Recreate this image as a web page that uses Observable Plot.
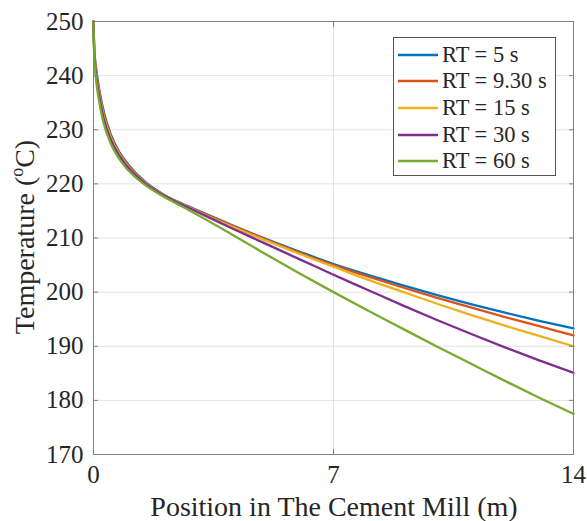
<!DOCTYPE html>
<html><head><meta charset="utf-8">
<script src="https://cdn.jsdelivr.net/npm/d3@7"></script>
<script src="https://cdn.jsdelivr.net/npm/@observablehq/plot@0.6"></script>
<style>
html,body{margin:0;padding:0;background:#fff;}
#wrap{position:relative;width:587px;height:521px;font-family:"Liberation Serif","Times New Roman",serif;}
#legend{position:absolute;left:393px;top:37px;width:163px;height:139px;border:1px solid #555;background:#fff;box-sizing:border-box;}
.row{position:absolute;left:4px;height:27px;display:flex;align-items:center;font-size:22.5px;color:#262626;white-space:nowrap;}
.row svg{margin-right:4px;}
</style>
</head><body>
<div id="wrap"></div>
<script>
const positions = [0, 0.02, 0.05, 0.1, 0.2, 0.3, 0.5, 0.75, 1, 1.5, 2, 2.5, 3, 4, 5, 6, 7, 8, 9, 10, 11, 12, 13, 14];
const rt5   = [250, 245, 242.7, 240.2, 236.3, 233.3, 229.2, 225.9, 223.7, 220.4, 218.2, 216.6, 215.2, 212.5, 209.9, 207.5, 205.2, 203.2, 201.3, 199.5, 197.8, 196.2, 194.7, 193.3];
const rt930 = [250, 244.8, 242.4, 239.8, 235.9, 232.9, 228.9, 225.7, 223.5, 220.3, 218.1, 216.5, 215.1, 212.4, 209.8, 207.3, 205.0, 202.9, 200.9, 199.0, 197.2, 195.4, 193.7, 192.0];
const rt15  = [250, 244.6, 242.1, 239.4, 235.5, 232.5, 228.6, 225.5, 223.3, 220.2, 218.0, 216.5, 215.0, 212.2, 209.6, 207.1, 204.7, 202.3, 200.1, 197.9, 195.8, 193.8, 191.9, 190.0];
const rt30  = [250, 244.3, 241.7, 238.9, 235.0, 232.0, 228.2, 225.2, 223.1, 220.1, 218.0, 216.4, 214.9, 211.9, 209.0, 206.1, 203.2, 200.4, 197.6, 194.9, 192.3, 189.8, 187.4, 185.1];
const rt60  = [250, 243.5, 240.8, 237.9, 234.0, 231.1, 227.5, 224.6, 222.6, 219.8, 217.8, 216.1, 214.4, 210.8, 207.1, 203.5, 200.0, 196.6, 193.3, 190.0, 186.8, 183.6, 180.5, 177.5];
const seriesNames = ["RT = 5 s", "RT = 9.30 s", "RT = 15 s", "RT = 30 s", "RT = 60 s"];
const seriesColors = ["#0072BD", "#D95319", "#EDB120", "#7E2F8E", "#77AC30"];
const xTicks = [0, 7, 14];
const yTicks = [170, 180, 190, 200, 210, 220, 230, 240, 250];
const xLabel = "Position in The Cement Mill (m)";

const seriesValues = [rt5, rt930, rt15, rt30, rt60];
const table = [];
seriesValues.forEach((vals, i) => vals.forEach((v, j) => table.push({x: positions[j], T: v, series: seriesNames[i]})));

const axisColor = "#808080";
const chart = Plot.plot({
  width: 587, height: 521,
  marginLeft: 93, marginRight: 14, marginTop: 21, marginBottom: 67,
  style: {fontFamily: "Liberation Serif, Times New Roman, serif", fontSize: "25px", color: "#262626", background: "white", overflow: "visible"},
  x: {domain: [0, 14]},
  y: {domain: [170, 250]},
  color: {domain: seriesNames, range: seriesColors},
  marks: [
    Plot.gridY(yTicks, {stroke: "#e3e3e3", strokeOpacity: 1, strokeWidth: 1}),
    Plot.gridX(xTicks, {stroke: "#e3e3e3", strokeOpacity: 1, strokeWidth: 1}),
    Plot.line(table, {x: "x", y: "T", z: "series", stroke: "series", strokeWidth: 2.3, curve: "monotone-x"}),
    Plot.frame({stroke: axisColor, strokeWidth: 1}),
    Plot.axisY(yTicks, {anchor: "left", tickSize: -5, tickPadding: 15, label: null, stroke: axisColor, fill: "#262626"}),
    Plot.axisY(yTicks, {anchor: "right", tickSize: -5, tickFormat: () => "", label: null, stroke: axisColor}),
    Plot.axisX(xTicks, {anchor: "bottom", tickSize: -5, tickPadding: 16, label: null, stroke: axisColor, fill: "#262626"}),
    Plot.axisX(xTicks, {anchor: "top", tickSize: -5, tickFormat: () => "", label: null, stroke: axisColor})
  ]
});
document.getElementById("wrap").appendChild(chart);

const svg = d3.select(chart);
svg.append("text")
  .attr("x", 334).attr("y", 516)
  .attr("text-anchor", "middle")
  .attr("font-size", 28).attr("fill", "#262626")
  .text(xLabel);
const yl = svg.append("text")
  .attr("transform", "translate(34,237) rotate(-90)")
  .attr("text-anchor", "middle")
  .attr("font-size", 28).attr("fill", "#262626");
yl.append("tspan").text("Temperature (");
yl.append("tspan").attr("font-size", 18).attr("dy", -11).text("o");
yl.append("tspan").attr("dy", 11).text("C)");

const legend = document.createElement("div");
legend.id = "legend";
seriesNames.forEach((name, i) => {
  const row = document.createElement("div");
  row.className = "row";
  row.style.top = (3 + i * 26.7) + "px";
  row.innerHTML = `<svg width="40" height="4"><line x1="0" x2="40" y1="2" y2="2" stroke="${seriesColors[i]}" stroke-width="2.3"/></svg><span>${name}</span>`;
  legend.appendChild(row);
});
document.getElementById("wrap").appendChild(legend);
</script>
</body></html>
